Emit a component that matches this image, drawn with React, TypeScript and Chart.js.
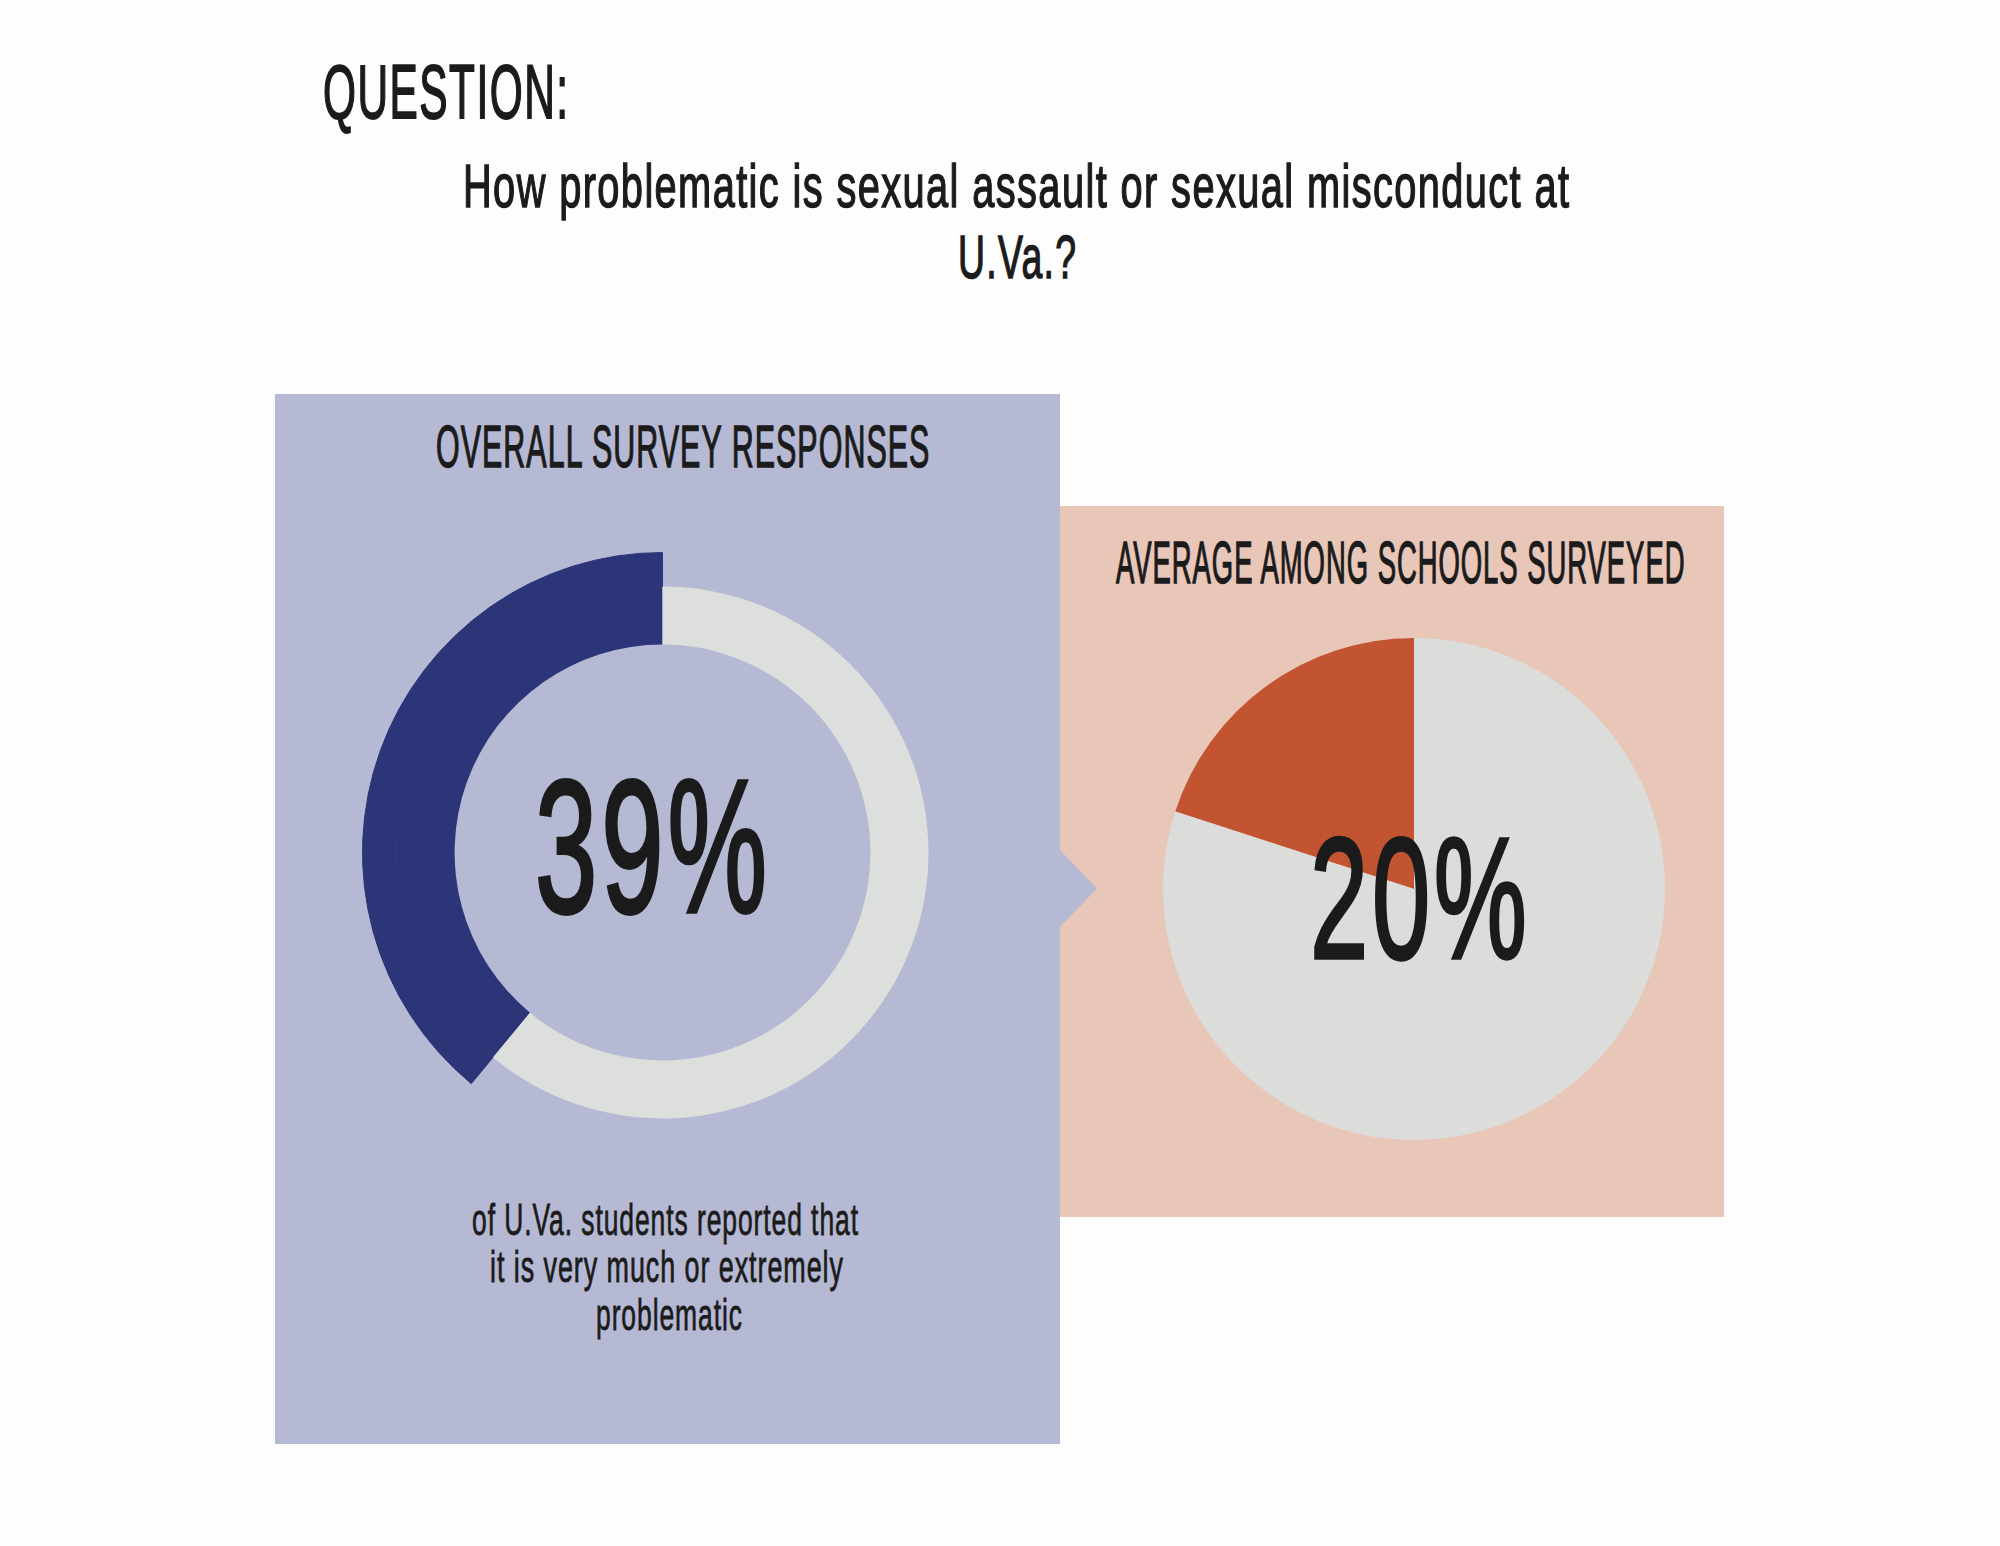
import React, { useEffect, useRef } from 'react';
import { Chart, registerables } from 'chart.js';

Chart.register(...registerables);

// ---------- data ----------
const overallLabels = ['Very much or extremely problematic', 'Other responses'];
const overallValues = [39, 61];
const averageLabels = ['Very much or extremely problematic', 'Other responses'];
const averageValues = [20, 80];

const titleText = 'QUESTION:';
const questionLines = ['How problematic is sexual assault or sexual misconduct at', 'U.Va.?'];
const overallHeading = 'OVERALL SURVEY RESPONSES';
const averageHeading = 'AVERAGE AMONG SCHOOLS SURVEYED';
const footerLines = ['of U.Va. students reported that', 'it is very much or extremely', 'problematic'];

// ---------- style ----------
const BG = '#fdfdfd';
const LAVENDER = '#b6b9d3';
const PINK = '#e8c6b8';
const BLUE = '#2b3577';
const RING_GRAY = '#dcdfdb';
const RED = '#c25431';
const PIE_GRAY = '#dcdddb';
const INK = '#1b1b1b';

const FONT = '"Liberation Sans Narrow", "Liberation Sans", Arial, sans-serif';
const CAP = 0.716;
const ASC = 0.905;
const DESC = 0.212;
const LS_EM = 0.035; // letter spacing, em
const STROKE_EM = 0.024; // extra stroke weight, em

let measureCtx: CanvasRenderingContext2D | null = null;
function measure(text: string, size: number, weight: number) {
  if (!measureCtx) measureCtx = document.createElement('canvas').getContext('2d');
  measureCtx!.font = `${weight} ${size}px ${FONT}`;
  return measureCtx!.measureText(text).width;
}

function T({ text, x0, x1, capTop, baseline, weight = 400, stroke = STROKE_EM }: any) {
  const capH = baseline - capTop;
  const size = capH / CAP;
  const ls = LS_EM * size;
  const w = measure(text, size, weight) + ls * (text.length - 1);
  const sx = (x1 - x0) / w;
  const top = baseline - (0.5 * (1 - (ASC + DESC)) + ASC) * size;
  return (
    <div
      style={{
        position: 'absolute',
        left: x0,
        top,
        fontFamily: FONT,
        fontWeight: weight,
        fontSize: size,
        lineHeight: `${size}px`,
        letterSpacing: `${ls}px`,
        whiteSpace: 'nowrap',
        transform: `scaleX(${sx})`,
        transformOrigin: '0 0',
        color: INK,
        WebkitTextStroke: `${stroke * size}px ${INK}`,
        zIndex: 5,
      } as any}
    >
      {text}
    </div>
  );
}

const DONUT_CX = 662;
const DONUT_CY = 852;

function DonutChart() {
  const ref = useRef<HTMLCanvasElement>(null);
  useEffect(() => {
    const chart = new Chart(ref.current!, {
      type: 'doughnut',
      data: {
        labels: overallLabels,
        datasets: [
          {
            data: overallValues,
            backgroundColor: [BLUE, 'rgba(0,0,0,0)'],
            borderColor: [BLUE, 'rgba(0,0,0,0)'],
            borderWidth: [1, 0],
            hoverOffset: 0,
            offset: 0,
            weight: 34,
          } as any,
          {
            data: overallValues,
            backgroundColor: [BLUE, RING_GRAY],
            borderWidth: 0,
            hoverOffset: 0,
            offset: 0,
            weight: 58,
          } as any,
        ],
      },
      options: {
        animation: false,
        responsive: false,
        maintainAspectRatio: false,
        events: [],
        rotation: -(overallValues[0] / 100) * 360,
        cutout: '69.3%',
        layout: { padding: 0 },
        plugins: { legend: { display: false }, tooltip: { enabled: false } },
      } as any,
    });
    return () => chart.destroy();
  }, []);
  const size = 601;
  return (
    <canvas
      ref={ref}
      width={size}
      height={size}
      style={{ position: 'absolute', left: DONUT_CX - size / 2, top: DONUT_CY - size / 2, width: size, height: size, zIndex: 2 }}
    />
  );
}

function PieChart() {
  const ref = useRef<HTMLCanvasElement>(null);
  useEffect(() => {
    const chart = new Chart(ref.current!, {
      type: 'pie',
      data: {
        labels: averageLabels,
        datasets: [
          {
            data: averageValues,
            backgroundColor: [RED, PIE_GRAY],
            borderWidth: 0,
            hoverOffset: 0,
            offset: 0,
          } as any,
        ],
      },
      options: {
        animation: false,
        responsive: false,
        maintainAspectRatio: false,
        events: [],
        rotation: -(averageValues[0] / 100) * 360,
        layout: { padding: 0 },
        plugins: { legend: { display: false }, tooltip: { enabled: false } },
      } as any,
    });
    return () => chart.destroy();
  }, []);
  const size = 502;
  return (
    <canvas
      ref={ref}
      width={size}
      height={size}
      style={{ position: 'absolute', left: 1414 - size / 2, top: 889 - size / 2, width: size, height: size, zIndex: 2 }}
    />
  );
}

export default function App() {
  return (
    <div
      style={{
        position: 'fixed',
        left: 0,
        top: 0,
        width: 2000,
        height: 1546,
        background: BG,
        overflow: 'hidden',
      }}
    >
      {/* panels */}
      <div style={{ position: 'absolute', left: 275, top: 394, width: 785, height: 1050, background: LAVENDER }} />
      <div style={{ position: 'absolute', left: 1060, top: 506, width: 664, height: 711, background: PINK }} />
      <div
        style={{
          position: 'absolute',
          left: 1059,
          top: 849,
          width: 38,
          height: 79,
          background: LAVENDER,
          clipPath: 'polygon(0 0, 100% 50%, 0 100%)',
          zIndex: 1,
        }}
      />

      <DonutChart />
      <PieChart />

      <T text={titleText} x0={323} x1={568} capTop={63} baseline={118} />
      <T text={questionLines[0]} x0={463} x1={1569} capTop={163} baseline={207} />
      <T text={questionLines[1]} x0={958} x1={1076} capTop={234} baseline={278} />

      <T text={overallHeading} x0={436} x1={931} capTop={426} baseline={468} />
      <T text={averageHeading} x0={1116} x1={1686} capTop={542} baseline={584} />

      <T text={`${overallValues[0]}%`} x0={535} x1={767} capTop={778} baseline={913} stroke={0.02} />
      <T text={`${averageValues[0]}%`} x0={1310} x1={1527} capTop={835} baseline={959} stroke={0.02} />

      <T text={footerLines[0]} x0={472} x1={858} capTop={1204} baseline={1236} stroke={0.018} />
      <T text={footerLines[1]} x0={490} x1={843} capTop={1251} baseline={1283} stroke={0.018} />
      <T text={footerLines[2]} x0={596} x1={742} capTop={1299} baseline={1331} stroke={0.018} />
    </div>
  );
}
